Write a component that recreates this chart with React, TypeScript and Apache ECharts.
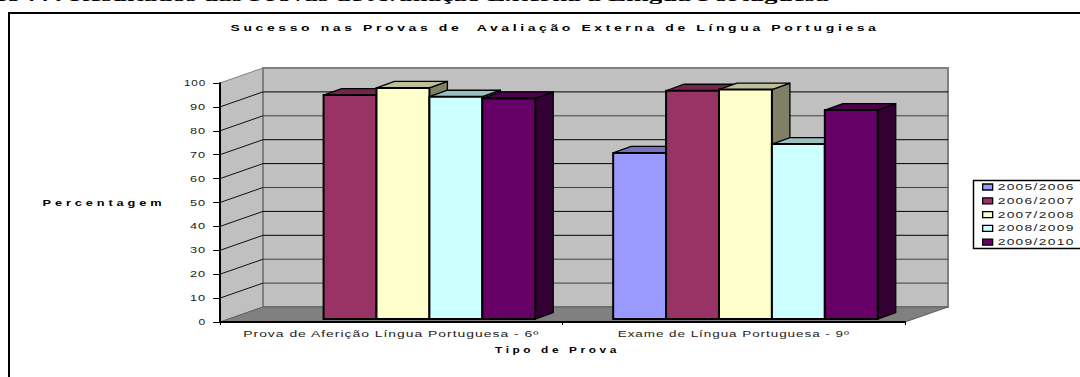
import React, { useEffect, useRef } from "react";
import * as echarts from "echarts";

const chartTitle = "Sucesso nas Provas de  Avaliação Externa de Língua Portugiesa";
const pageCaption = "Gráfico 77: Resultados das Provas de Avaliação Externa à Língua Portuguesa";
const categories = ["Prova de Aferição Língua Portuguesa - 6º", "Exame de Língua Portuguesa - 9º"];
const years = ["2005/2006", "2006/2007", "2007/2008", "2008/2009", "2009/2010"];
const ticks = [0, 10, 20, 30, 40, 50, 60, 70, 80, 90, 100];
const v2005: (number | null)[] = [null, 69.5];
const v2006: (number | null)[] = [93.7, 95.5];
const v2007: (number | null)[] = [96.7, 96];
const v2008: (number | null)[] = [93, 73.2];
const v2009: (number | null)[] = [92.3, 87.4];
const seriesValues = [v2005, v2006, v2007, v2008, v2009];
const faceColors = ["#9999FF", "#993366", "#FFFFCC", "#CCFFFF", "#660066"];
const topColors = ["#7373BF", "#73264D", "#BFBF99", "#99BFBF", "#4D004D"];
const sideColors = ["#4D4D80", "#4D1A33", "#808066", "#668080", "#330033"];

// [letter spacing, final stretched width] for each text
const TEXT_FIT: Record<string, [number, number]> = {};
TEXT_FIT[chartTitle] = [2.2, 649];
TEXT_FIT[pageCaption] = [0, 898];
TEXT_FIT["Percentagem"] = [2.6, 123];
TEXT_FIT["Tipo de Prova"] = [2.6, 125];
TEXT_FIT[categories[0]] = [0.6, 296];
TEXT_FIT[categories[1]] = [0.6, 232];
years.forEach((y) => (TEXT_FIT[y] = [0.8, 77]));
ticks.forEach((t) => (TEXT_FIT[String(t)] = [0.6, t === 100 ? 22 : t === 0 ? 7.5 : 16]));

const DX = 43;
const DY = 15;

function renderWalls(params: any, api: any) {
  const v = api.value(0);
  const y = api.coord([0, v])[1];
  const x0 = params.coordSys.x;
  const x1 = x0 + params.coordSys.width;
  const children: any[] = [];
  if (v === 0) {
    const top = api.coord([0, 100])[1];
    children.push({
      type: "polygon",
      shape: { points: [[x0, y], [x0 + DX, y - DY], [x0 + DX, top - DY], [x0, top]] },
      style: { fill: "#C0C0C0", stroke: "#808080", lineWidth: 1 },
    });
    children.push({
      type: "rect",
      shape: { x: x0 + DX, y: top - DY, width: x1 - x0, height: y - top },
      style: { fill: "#C0C0C0", stroke: "#808080", lineWidth: 2 },
    });
    children.push({
      type: "polygon",
      shape: { points: [[x0, y], [x1, y], [x1 + DX, y - DY], [x0 + DX, y - DY]] },
      style: { fill: "#808080", stroke: "#606060", lineWidth: 1 },
    });
  } else if (v < 100) {
    const c = v % 30 === 0 || v === 40 || v === 70 ? "#000000" : "#404040";
    children.push({
      type: "line",
      shape: { x1: x0, y1: y, x2: x0 + DX, y2: y - DY },
      style: { stroke: "#101010", lineWidth: 1 },
    });
    children.push({
      type: "line",
      shape: { x1: x0 + DX, y1: y - DY, x2: x1 + DX, y2: y - DY },
      style: { stroke: c, lineWidth: 1 },
    });
  }
  return { type: "group", children };
}

function makeBarRenderer(index: number) {
  return (params: any, api: any) => {
    const raw = api.value(1);
    if (raw == null || isNaN(raw)) return null;
    const cat = api.value(0);
    const band = api.size([1, 0])[0];
    const w = band * 0.1545;
    const p = api.coord([cat, raw]);
    const b = api.coord([cat, 0]);
    const left = p[0] + 11.7 + (index - 2.5) * w;
    const right = left + w;
    const top = p[1] - 3;
    const bottom = b[1] - 3;
    const dx = 18;
    const dy = 6.5;
    return {
      type: "group",
      children: [
        {
          type: "polygon",
          shape: { points: [[right, top], [right + dx, top - dy], [right + dx, bottom - dy], [right, bottom]] },
          style: { fill: sideColors[index], stroke: "#000", lineWidth: 1.3 },
        },
        {
          type: "polygon",
          shape: { points: [[left, top], [left + dx, top - dy], [right + dx, top - dy], [right, top]] },
          style: { fill: topColors[index], stroke: "#000", lineWidth: 1.3 },
        },
        {
          type: "rect",
          shape: { x: left, y: top, width: w, height: bottom - top },
          style: { fill: faceColors[index], stroke: "#000", lineWidth: 2 },
        },
      ],
    };
  };
}

export default function App() {
  const ref = useRef<HTMLDivElement>(null);
  useEffect(() => {
    document.body.style.margin = "0";
    const chart = echarts.init(ref.current!, undefined, { renderer: "svg" });
    const font = "Liberation Sans";
    chart.setOption({
      animation: false,
      backgroundColor: "#fff",
      textStyle: { fontFamily: font },
      title: {
        text: chartTitle,
        left: 550,
        top: 18,
        textAlign: "center",
        textStyle: { fontFamily: font, fontSize: 8.5, fontWeight: "bold", color: "#000" },
      },
      grid: { left: 220, right: 175, top: 83, bottom: 55, containLabel: false },
      xAxis: {
        type: "category",
        data: categories,
        z: 5,
        name: "Tipo de Prova",
        nameLocation: "middle",
        nameGap: 23,
        nameTextStyle: { fontFamily: font, fontSize: 8.5, fontWeight: "bold", color: "#000", padding: [0, 10, 0, 0] },
        axisLine: { show: true, lineStyle: { color: "#000", width: 2 } },
        axisTick: { show: true, length: 3, lineStyle: { color: "#000", width: 1 } },
        axisLabel: { fontFamily: font, fontSize: 8.5, color: "#222", margin: 7 },
      },
      yAxis: {
        type: "value",
        min: 0,
        max: 100,
        interval: 10,
        z: 5,
        name: "Percentagem",
        nameLocation: "middle",
        nameGap: 116,
        nameRotate: 0,
        nameTextStyle: { fontFamily: font, fontSize: 8.5, fontWeight: "bold", color: "#000", align: "center", verticalAlign: "middle" },
        splitLine: { show: false },
        axisLine: { show: true, lineStyle: { color: "#000", width: 2 } },
        axisTick: { show: true, length: 7, lineStyle: { color: "#000", width: 1 } },
        axisLabel: { fontFamily: font, fontSize: 8.5, color: "#222", margin: 14 },
      },
      legend: {
        data: years,
        orient: "vertical",
        left: 982,
        top: 182.5,
        icon: "rect",
        itemWidth: 10,
        itemHeight: 6,
        itemGap: 4.8,
        padding: 0,
        itemStyle: { borderColor: "#000", borderWidth: 1.3 },
        textStyle: { fontFamily: font, fontSize: 8.5, color: "#222" },
        selectedMode: false,
      },
      graphic: [
        {
          type: "rect",
          z: -10,
          shape: { x: 9, y: 13, width: 1200, height: 500 },
          style: { fill: "transparent", stroke: "#000", lineWidth: 2 },
          silent: true,
        },
        {
          type: "rect",
          z: -5,
          shape: { x: 973.5, y: 180.5, width: 200, height: 68 },
          style: { fill: "#fff", stroke: "#000", lineWidth: 1.5 },
          silent: true,
        },
        {
          type: "text",
          x: 829,
          y: -11,
          style: {
            text: pageCaption,
            fill: "#000",
            align: "right",
            font: 'bold 14px "Liberation Serif"',
          },
          silent: true,
        },
      ],
      series: [
        {
          type: "custom",
          name: "walls",
          z: 1,
          silent: true,
          data: ticks.map((t) => [t]),
          encode: { y: 0 },
          renderItem: renderWalls,
        },
        ...years.map((name, i) => ({
          type: "custom",
          name,
          z: 2 + i,
          silent: true,
          itemStyle: { color: faceColors[i] },
          data: seriesValues[i].map((v, c) => [c, v]),
          encode: { x: 0, y: 1 },
          renderItem: makeBarRenderer(i),
        })),
      ],
    });
    ref.current!.querySelectorAll("text").forEach((t) => {
      const fit = TEXT_FIT[t.textContent || ""] ?? TEXT_FIT[(t.textContent || "").trim()];
      if (!fit) return;
      if (fit[0]) (t as SVGTextElement).style.letterSpacing = fit[0] + "px";
      t.setAttribute("textLength", String(fit[1]));
      t.setAttribute("lengthAdjust", "spacingAndGlyphs");
    });
    return () => chart.dispose();
  }, []);
  return <div ref={ref} style={{ position: "fixed", left: 0, top: 0, width: 1080, height: 377 }} />;
}
